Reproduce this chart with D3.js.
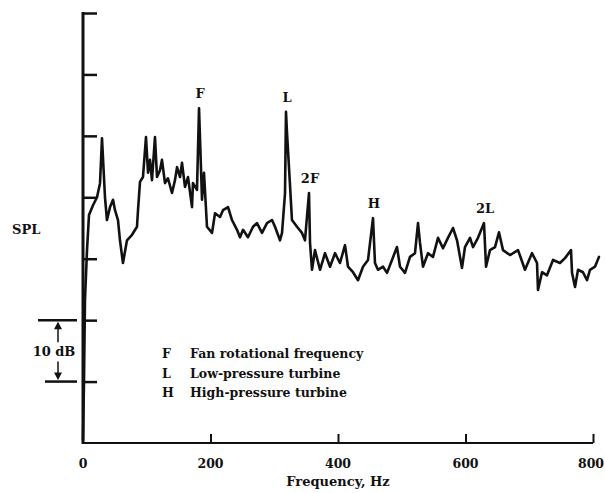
<!DOCTYPE html>
<html>
<head>
<meta charset="utf-8">
<script src="https://cdn.jsdelivr.net/npm/d3@7/dist/d3.min.js"></script>
<style>
  html, body { margin: 0; padding: 0; background: #fff; }
  svg { display: block; }
  text { font-family: "DejaVu Serif", "Liberation Serif", serif; fill: #111; }
</style>
</head>
<body>
<script>
// ---- data ----
const freqHz = [0, 1.6, 3.1, 6.3, 9.4, 15.7, 22.0, 26.7, 29.8, 34.5, 37.6, 42.4, 47.1, 50.2, 54.9, 58.0, 62.7, 69.0, 76.9, 84.7,
  86.3, 89.4, 94.1, 98.8, 102.0, 105.1, 108.2, 112.9, 116.1, 120.8, 123.9, 128.6, 133.3, 139.6, 144.3, 147.5, 152.2, 155.3, 160.0, 164.7,
  171.0, 172.5, 178.8, 182.0, 186.7, 189.8, 194.5, 202.4, 207.1, 214.9, 219.6, 227.5, 233.7, 241.6, 246.3, 251.0, 258.8, 266.7, 272.9, 280.8,
  288.6, 296.5, 301.2, 309.0, 312.2, 316.9, 318.4, 320.0, 323.1, 327.8, 335.7, 343.5, 348.2, 354.5, 356.1, 359.2, 363.9, 371.8, 379.6, 387.5,
  395.3, 403.1, 411.0, 415.7, 423.5, 431.4, 439.2, 447.1, 454.9, 458.0, 462.7, 470.6, 476.9, 484.7, 492.5, 497.3, 505.1, 512.9, 520.8, 525.5,
  528.6, 533.3, 541.2, 549.0, 556.9, 564.7, 572.5, 580.4, 586.7, 594.5, 599.2, 607.1, 611.8, 619.6, 629.0, 632.2, 638.4, 646.3, 652.5, 658.8,
  669.8, 682.4, 693.3, 704.3, 712.2, 713.7, 720.0, 727.8, 737.3, 748.2, 756.1, 765.5, 767.1, 771.8, 776.5, 784.3, 790.6, 795.3, 803.1, 809.4];
const splDb = [0.5, 10.3, 23.3, 31.4, 37.1, 38.7, 40.0, 42.3, 49.6, 40.0, 36.3, 38.4, 39.6, 37.9, 36.3, 33.0, 29.3, 33.0, 33.9, 35.2,
  37.9, 42.5, 43.3, 49.8, 44.0, 46.1, 42.8, 49.8, 43.3, 44.4, 46.1, 42.3, 43.1, 40.7, 42.8, 44.9, 43.3, 45.6, 41.7, 43.3,
  38.4, 42.3, 41.2, 54.5, 39.6, 44.0, 35.2, 34.2, 37.4, 36.8, 37.9, 38.4, 36.3, 34.7, 33.5, 34.7, 33.5, 35.2, 35.8, 34.2,
  35.8, 36.3, 35.2, 33.0, 34.2, 40.7, 53.9, 50.5, 44.9, 36.3, 35.2, 34.2, 33.0, 40.7, 32.6, 28.2, 31.4, 28.2, 30.9, 28.7,
  30.9, 29.3, 32.2, 28.7, 27.8, 26.5, 28.7, 29.8, 36.6, 29.3, 28.2, 28.7, 27.7, 29.8, 31.9, 28.7, 27.7, 30.3, 30.9, 35.8,
  32.6, 28.7, 30.9, 30.3, 33.4, 31.7, 33.4, 35.0, 33.0, 28.5, 31.9, 33.4, 31.9, 33.4, 35.8, 28.7, 31.4, 31.9, 34.3, 31.4,
  30.6, 31.4, 28.2, 30.9, 29.3, 24.9, 27.8, 27.3, 29.8, 29.3, 30.1, 31.4, 27.7, 25.4, 28.2, 27.8, 26.5, 28.2, 28.7, 30.3];

const xTickValues = [0, 200, 400, 600, 800];
const yTickValues = [10, 20, 30, 40, 50, 60, 70];

const peakLabels = ["F", "L", "2F", "H", "2L"];
const peakFreqs = [182.0, 318.4, 354.5, 454.9, 629.0];
const peakDb = [54.5, 53.9, 40.7, 36.6, 35.8];

const legendCodes = ["F", "L", "H"];
const legendTexts = ["Fan rotational frequency", "Low-pressure turbine", "High-pressure turbine"];

const xTitle = "Frequency, Hz";
const yTitle = "SPL";
const scaleBarLabel = "10 dB";
const scaleBarDb = [10, 20];

// ---- drawing ----
const W = 605, H = 493;
const svg = d3.select("body").append("svg").attr("width", W).attr("height", H);

const x = d3.scaleLinear().domain([0, 800]).range([83, 593]);
const y = d3.scaleLinear().domain([0, 70]).range([443, 13]);

// y axis (ticks pointing inward, no labels)
const yAxis = d3.axisRight(y).tickValues(yTickValues).tickSize(14).tickFormat("");
const gy = svg.append("g").attr("transform", `translate(${x(0)},0)`).call(yAxis);
gy.select(".domain").remove();
gy.selectAll(".tick line").attr("stroke", "#111").attr("stroke-width", 2.5);
svg.append("line").attr("x1", x(0)).attr("x2", x(0)).attr("y1", y(70) - 1).attr("y2", y(0) + 1)
  .attr("stroke", "#111").attr("stroke-width", 3);

// x axis (ticks pointing up)
const xAxis = d3.axisTop(x).tickValues(xTickValues.filter(v => v > 0)).tickSize(9).tickFormat("");
const gx = svg.append("g").attr("transform", `translate(0,${y(0)})`).call(xAxis);
gx.select(".domain").remove();
gx.selectAll(".tick line").attr("stroke", "#111").attr("stroke-width", 2);
svg.append("line").attr("x1", x(0)).attr("x2", x(800)).attr("y1", y(0)).attr("y2", y(0))
  .attr("stroke", "#111").attr("stroke-width", 2.2);

// x tick labels
svg.append("g").selectAll("text").data(xTickValues).join("text")
  .attr("x", d => Math.min(x(d), W - 14)).attr("y", y(0) + 25)
  .attr("text-anchor", "middle").attr("font-size", 12.5).attr("font-weight", "bold")
  .text(d => d);

svg.append("text").attr("x", x(400)).attr("y", y(0) + 43)
  .attr("text-anchor", "middle").attr("font-size", 13).attr("font-weight", "bold")
  .text(xTitle);

svg.append("text").attr("x", 12).attr("y", y(35) + 6)
  .attr("font-size", 13).attr("font-weight", "bold").text(yTitle);

// spectrum line
const line = d3.line().x((d, i) => x(freqHz[i])).y(d => y(d));
svg.append("path").datum(splDb)
  .attr("d", line)
  .attr("fill", "none").attr("stroke", "#111").attr("stroke-width", 2.6)
  .attr("stroke-linejoin", "round").attr("stroke-linecap", "round");

// peak labels
svg.append("g").selectAll("text").data(peakLabels).join("text")
  .attr("x", (d, i) => x(peakFreqs[i]) + 1)
  .attr("y", (d, i) => y(peakDb[i]) - 10)
  .attr("text-anchor", "middle").attr("font-size", 13).attr("font-weight", "bold")
  .text(d => d);

// legend
const lg = svg.append("g");
lg.selectAll("text.code").data(legendCodes).join("text").attr("class", "code")
  .attr("x", 162).attr("y", (d, i) => 358 + i * 19.5)
  .attr("font-size", 12.5).attr("font-weight", "bold").text(d => d);
lg.selectAll("text.desc").data(legendTexts).join("text").attr("class", "desc")
  .attr("x", 190).attr("y", (d, i) => 358 + i * 19.5)
  .attr("font-size", 12.5).attr("font-weight", "bold").text(d => d);

// 10 dB scale bar
const sb = svg.append("g");
const yTop = y(scaleBarDb[1]), yBot = y(scaleBarDb[0]);
sb.append("line").attr("x1", 38).attr("x2", 77).attr("y1", yTop).attr("y2", yTop)
  .attr("stroke", "#111").attr("stroke-width", 2.5);
sb.append("line").attr("x1", 45).attr("x2", 77).attr("y1", yBot).attr("y2", yBot)
  .attr("stroke", "#111").attr("stroke-width", 2.5);
sb.append("line").attr("x1", 58).attr("x2", 58).attr("y1", yTop + 3).attr("y2", yTop + 22)
  .attr("stroke", "#111").attr("stroke-width", 1.5);
sb.append("line").attr("x1", 58).attr("x2", 58).attr("y1", yBot - 20).attr("y2", yBot - 3)
  .attr("stroke", "#111").attr("stroke-width", 1.5);
sb.append("path").attr("d", `M54,${yTop + 9} L58,${yTop + 1.5} L62,${yTop + 9} Z`).attr("fill", "#111");
sb.append("path").attr("d", `M54,${yBot - 9} L58,${yBot - 1.5} L62,${yBot - 9} Z`).attr("fill", "#111");
sb.append("text").attr("x", 54).attr("y", (yTop + yBot) / 2 + 5)
  .attr("text-anchor", "middle").attr("font-size", 13).attr("font-weight", "bold")
  .style("paint-order", "stroke").attr("stroke", "#fff").attr("stroke-width", 3)
  .text(scaleBarLabel);
</script>
</body>
</html>
